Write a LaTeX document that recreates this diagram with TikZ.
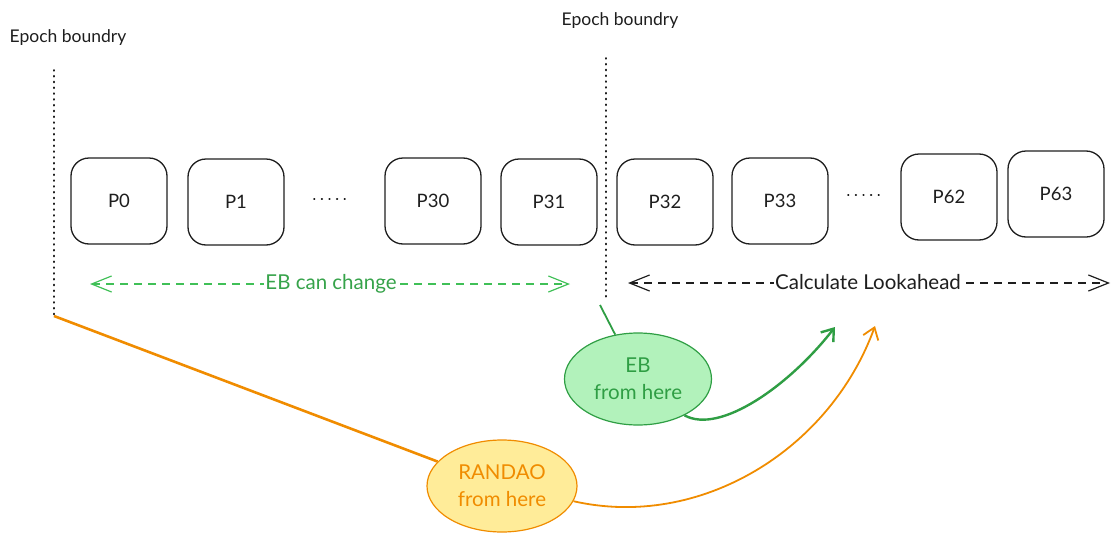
\documentclass[tikz,border=0pt]{standalone}
\usepackage{fontspec}
\setmainfont{Lato}
\usetikzlibrary{arrows.meta,shapes.geometric}
\definecolor{egreen}{HTML}{2F9E44}
\definecolor{lgreen}{HTML}{40C057}
\definecolor{gfill}{HTML}{B2F2BB}
\definecolor{eorange}{HTML}{F08C00}
\definecolor{ofill}{HTML}{FFEC99}
\definecolor{ink}{HTML}{1E1E1E}
\begin{document}
\begin{tikzpicture}[x=1pt,y=-1pt,
  pbox/.style={draw=ink,line width=1.3pt,rounded corners=18pt,minimum width=96pt,minimum height=86pt,inner sep=0pt,text=ink,font=\fontsize{18.5}{20}\selectfont},
  eplabel/.style={text=ink,font=\fontsize{17.5}{20}\selectfont},
  boundary/.style={ink,line width=1.8pt,dash pattern=on 0.8pt off 5pt,line cap=round},
  ellipsis/.style={ink,line width=1.7pt,dash pattern=on 0.6pt off 7pt,line cap=round},
  rangearrow/.style={line width=1.2pt,dash pattern=on 8pt off 6pt,{Straight Barb[length=20pt,width=16pt]}-{Straight Barb[length=20pt,width=16pt]}},
  rangelabel/.style={fill=white,inner sep=1pt,font=\fontsize{20.5}{22}\selectfont},
  blob/.style={ellipse,line width=1.2pt,inner sep=0pt,align=center,font=\fontsize{20.5}{27}\selectfont},
  tip/.style={-{Straight Barb[length=11pt,width=16pt]}}
]
\useasboundingbox (0,0) rectangle (1120,541);

% epoch boundaries
\node[eplabel] (ep1) at (68,38) {Epoch boundry};
\node[eplabel] (ep2) at (620,21) {Epoch boundry};
\coordinate (b1t) at (54,70);
\coordinate (b1b) at (54,316);
\coordinate (b2t) at (606,58);
\coordinate (b2b) at (606,300);
\draw[boundary] (b1t) -- (b1b);
\draw[boundary] (b2t) -- (b2b);

% proposer slots
\node[pbox] (p0)  at (119,201) {P0};
\node[pbox] (p1)  at (236,202) {P1};
\node[pbox] (p30) at (433,201) {P30};
\node[pbox] (p31) at (549,202) {P31};
\node[pbox] (p32) at (665,202) {P32};
\node[pbox] (p33) at (780,201) {P33};
\node[pbox] (p62) at (949,197) {P62};
\node[pbox] (p63) at (1056,194) {P63};

\coordinate (d1a) at (314,199);
\coordinate (d1b) at (350,199);
\coordinate (d2a) at (848,195);
\coordinate (d2b) at (884,195);
\draw[ellipsis] (d1a) -- (d1b);
\draw[ellipsis] (d2a) -- (d2b);

% ranges
\coordinate (g1) at (90,284);
\coordinate (g2) at (570,284);
\coordinate (k1) at (628,283);
\coordinate (k2) at (1110,283);
\draw[rangearrow,lgreen] (g1) -- (g2);
\node[rangelabel,text=lgreen!85!black] (gl) at (331,284) {EB can change};
\draw[rangearrow,ink] (k1) -- (k2);
\node[rangelabel,text=ink] (kl) at (868,282) {Calculate Lookahead};

% sources
\node[blob,draw=egreen,fill=gfill,text=egreen,minimum width=147pt,minimum height=92pt] (eb) at (638,379) {EB\\from here};
\node[blob,draw=eorange,fill=ofill,text=eorange,minimum width=150pt,minimum height=92pt] (rd) at (502,486) {RANDAO\\from here};

\coordinate (gs) at (600,305);
\coordinate (gt) at (835,327);
\coordinate (ot) at (875,326);

\draw[egreen,line width=1.8pt] (gs) -- (eb);
\draw[eorange,line width=2.6pt] (b1b) -- (rd);
\draw[egreen,line width=2.4pt,tip] (eb.-38) .. controls (720,435) and (790,385) .. (gt);
\draw[eorange,line width=1.8pt,tip] (rd.-12) .. controls (700,530) and (830,450) .. (ot);
\end{tikzpicture}
\end{document}
